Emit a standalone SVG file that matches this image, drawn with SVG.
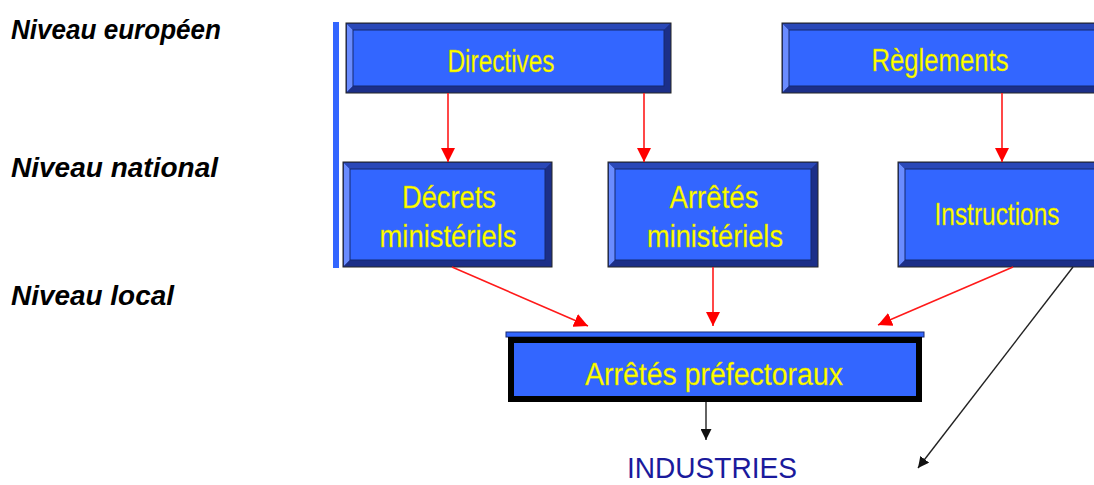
<svg xmlns="http://www.w3.org/2000/svg" width="1094" height="485" viewBox="0 0 1094 485">
<defs>
<style>
.lvl{font-family:"Liberation Sans",Arial,sans-serif;font-weight:bold;font-style:italic;font-size:28px;fill:#000}
.bt{font-family:"Liberation Sans",Arial,sans-serif;font-size:31px;fill:#ffff00;stroke:#c8c800;stroke-width:0.3;text-anchor:middle}
.ind{font-family:"Liberation Sans",Arial,sans-serif;font-size:29px;fill:#1a1a9c;text-anchor:middle}
.out{fill:#1e3590;stroke:#222;stroke-width:1}
.lt{fill:#6a8cff}
.tp{fill:#2a48b8}
.dk{fill:#1c2f88}
.inner{fill:#3366ff;stroke:#14286e;stroke-width:1}
.red{stroke:#ff1a1a;stroke-width:1.6;fill:none}
.blk{stroke:#222;stroke-width:1.4;fill:none}
</style>
<marker id="ar" viewBox="0 0 14 14" refX="14" refY="7" markerWidth="14" markerHeight="14" markerUnits="userSpaceOnUse" orient="auto"><path d="M0,0 L14,7 L0,14 z" fill="#ff0000"/></marker>
<marker id="ab" viewBox="0 0 10 10" refX="10" refY="5" markerWidth="11" markerHeight="11" markerUnits="userSpaceOnUse" orient="auto"><path d="M0,0 L10,5 L0,10 z" fill="#111"/></marker>
</defs>
<rect width="1094" height="485" fill="#fff"/>

<g id="levels">
<text class="lvl" x="11" y="39" textLength="210" lengthAdjust="spacingAndGlyphs">Niveau  européen</text>
<text class="lvl" x="11" y="177" textLength="207" lengthAdjust="spacingAndGlyphs">Niveau  national</text>
<text class="lvl" x="11" y="305" textLength="163" lengthAdjust="spacingAndGlyphs">Niveau  local</text>
</g>

<rect id="bar" x="333" y="22" width="6" height="246" fill="#3366ff"/>

<g id="directives">
<rect class="out" x="346" y="23" width="325" height="70"/>
<path class="lt" d="M347,24 L353,30 L353,86 L347,92 z"/>
<path class="tp" d="M347,24 L670,24 L664,30 L353,30 z"/>
<path class="dk" d="M670,24 L670,92 L664,86 L664,30 z"/>
<path class="dk" d="M347,92 L670,92 L664,86 L353,86 z"/>
<rect class="inner" x="353" y="30" width="311" height="56"/>
<text class="bt" x="501" y="72" textLength="107" lengthAdjust="spacingAndGlyphs">Directives</text>
</g>

<g id="reglements">
<rect class="out" x="782" y="23" width="316" height="70"/>
<path class="lt" d="M783,24 L789,30 L789,86 L783,92 z"/>
<path class="tp" d="M783,24 L1098,24 L1098,30 L789,30 z"/>
<path class="dk" d="M783,92 L1098,92 L1098,86 L789,86 z"/>
<rect class="inner" x="789" y="30" width="310" height="56"/>
<text class="bt" x="940" y="71" textLength="137" lengthAdjust="spacingAndGlyphs">Règlements</text>
</g>

<g id="decrets">
<rect class="out" x="343" y="162" width="209" height="105"/>
<path class="lt" d="M344,163 L350,169 L350,260 L344,266 z"/>
<path class="tp" d="M344,163 L551,163 L545,169 L350,169 z"/>
<path class="dk" d="M551,163 L551,266 L545,260 L545,169 z"/>
<path class="dk" d="M344,266 L551,266 L545,260 L350,260 z"/>
<rect class="inner" x="350" y="169" width="195" height="91"/>
<text class="bt" x="449" y="208" textLength="94" lengthAdjust="spacingAndGlyphs">Décrets</text>
<text class="bt" x="448" y="247" textLength="137" lengthAdjust="spacingAndGlyphs">ministériels</text>
</g>

<g id="arretes-ministeriels">
<rect class="out" x="608" y="162" width="210" height="105"/>
<path class="lt" d="M609,163 L615,169 L615,260 L609,266 z"/>
<path class="tp" d="M609,163 L817,163 L811,169 L615,169 z"/>
<path class="dk" d="M817,163 L817,266 L811,260 L811,169 z"/>
<path class="dk" d="M609,266 L817,266 L811,260 L615,260 z"/>
<rect class="inner" x="615" y="169" width="196" height="91"/>
<text class="bt" x="714" y="208" textLength="89" lengthAdjust="spacingAndGlyphs">Arrêtés</text>
<text class="bt" x="715" y="247" textLength="136" lengthAdjust="spacingAndGlyphs">ministériels</text>
</g>

<g id="instructions">
<rect class="out" x="898" y="162" width="200" height="105"/>
<path class="lt" d="M899,163 L905,169 L905,260 L899,266 z"/>
<path class="tp" d="M899,163 L1098,163 L1098,169 L905,169 z"/>
<path class="dk" d="M899,266 L1098,266 L1098,260 L905,260 z"/>
<rect class="inner" x="905" y="169" width="194" height="91"/>
<text class="bt" x="997" y="225" textLength="125" lengthAdjust="spacingAndGlyphs">Instructions</text>
</g>

<g id="arretes-prefectoraux">
<rect x="506" y="332" width="418" height="5" fill="#3366ff" stroke="#1a2a70" stroke-width="1"/>
<rect x="511" y="340" width="408" height="59" fill="#3366ff" stroke="#000" stroke-width="6"/>
<text class="bt" x="714" y="385" textLength="258" lengthAdjust="spacingAndGlyphs">Arrêtés préfectoraux</text>
</g>

<g id="industries">
<text class="ind" x="712" y="478" textLength="170" lengthAdjust="spacingAndGlyphs">INDUSTRIES</text>
</g>

<g id="connectors">
<line class="red" x1="448" y1="93" x2="448" y2="162" marker-end="url(#ar)"/>
<line class="red" x1="644" y1="93" x2="644" y2="162" marker-end="url(#ar)"/>
<line class="red" x1="1002" y1="93" x2="1002" y2="162" marker-end="url(#ar)"/>
<line class="red" x1="452" y1="267" x2="588" y2="326" marker-end="url(#ar)"/>
<line class="red" x1="713" y1="267" x2="713" y2="326" marker-end="url(#ar)"/>
<line class="red" x1="1013" y1="267" x2="878" y2="325" marker-end="url(#ar)"/>
<line class="blk" x1="706" y1="402" x2="706" y2="440" marker-end="url(#ab)"/>
<line class="blk" x1="1073" y1="267" x2="918" y2="468" marker-end="url(#ab)"/>
</g>
</svg>
